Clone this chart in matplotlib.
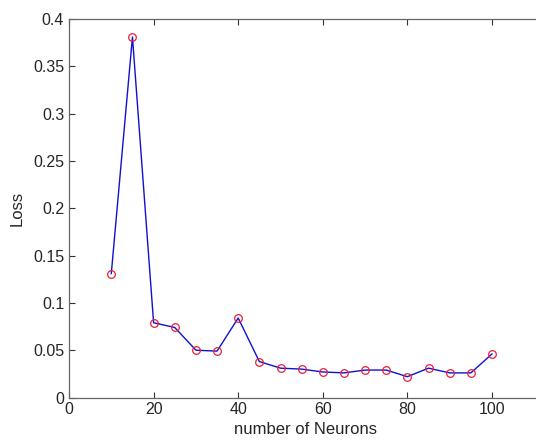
import numpy as np
import matplotlib
matplotlib.use("Agg")
import matplotlib.pyplot as plt

plt.rcParams['font.family'] = ['Liberation Sans', 'DejaVu Sans']

neurons = [10, 15, 20, 25, 30, 35, 40, 45, 50, 55, 60, 65, 70, 75, 80, 85, 90, 95, 100]
loss = [0.131, 0.381, 0.079, 0.074, 0.050, 0.049, 0.084, 0.038, 0.031, 0.030,
        0.027, 0.026, 0.029, 0.029, 0.022, 0.031, 0.026, 0.026, 0.046]

fig = plt.figure(figsize=(5.36, 4.48), dpi=100)
# axes run past the right edge of the figure, like the cropped original
px_per_unit = (492 - 69) / 100
ax = fig.add_axes([69 / 536, 1 - 397.5 / 448, 112 * px_per_unit / 536, (397.5 - 19) / 448])

ax.plot(neurons, loss, color='#1010d0', lw=1.0)
ax.plot(neurons, loss, 'o', mfc='none', mec='#e8203a', ms=5.5, mew=0.9)

ax.set_xlim(0, 112)
ax.set_ylim(0, 0.4)
ax.set_xticks([0, 20, 40, 60, 80, 100])
ax.set_yticks(np.arange(0, 0.41, 0.05))
ax.set_yticklabels(['0', '0.05', '0.1', '0.15', '0.2', '0.25', '0.3', '0.35', '0.4'])

for s in ['left', 'bottom', 'top', 'right']:
    ax.spines[s].set_color('#666666')
    ax.spines[s].set_linewidth(0.9)
ax.tick_params(direction='in', top=True, right=True, length=4, width=0.8,
               colors='#333333', labelsize=11.5, labelcolor='#262626')

ax.set_xlabel('number of Neurons', fontsize=12, color='#262626', labelpad=3)
ax.set_ylabel('Loss', fontsize=12, color='#262626', labelpad=6)

fig.savefig('out.png', dpi=100)
